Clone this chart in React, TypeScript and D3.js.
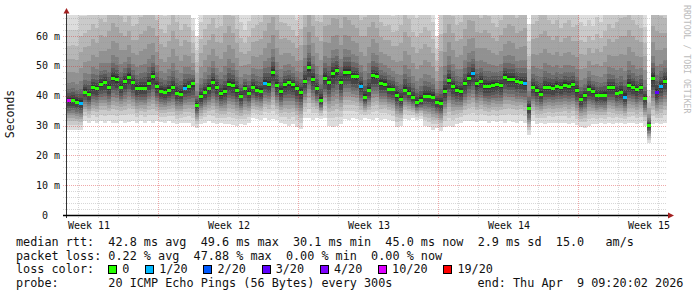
import React from "react";
import * as d3 from "d3";

// ---------------- data ----------------
const DAYS = 30;
const STEP_DAYS = 0.2; // one column = 4.8 h
const Y_MAX = 67.05;

const medianMs = [
  38.5, 38.6, 38.0, 37.5, 41.3, 40.5, 42.8, 42.6, 43.8, 44.5,
  42.8, 46.0, 45.5, 43.0, 45.0, 46.4, 44.5, 42.6, 42.5, 42.7,
  44.3, 46.6, 43.2, 41.6, 41.3, 41.9, 43.0, 41.0, 40.6, 42.7,
  43.2, 44.1, 36.9, 39.8, 41.3, 42.6, 44.7, 42.9, 40.8, 41.5,
  44.0, 43.6, 42.0, 39.9, 42.5, 41.0, 43.0, 41.9, 41.5, 44.4,
  44.0, 48.0, 43.5, 41.5, 43.8, 44.5, 43.8, 42.5, 41.3, 45.0,
  49.5, 45.7, 42.5, 38.5, 46.0, 44.7, 47.5, 48.5, 44.7, 48.0,
  48.1, 46.6, 46.5, 43.2, 39.5, 41.9, 46.8, 46.6, 44.3, 44.0,
  42.4, 42.3, 40.2, 38.8, 42.0, 41.0, 39.5, 37.8, 38.5, 40.0,
  40.0, 39.7, 38.0, 37.5, 41.5, 45.2, 43.2, 41.9, 41.5, 44.1,
  46.0, 47.5, 44.1, 45.0, 43.2, 43.2, 43.6, 43.8, 43.5, 46.4,
  45.7, 45.7, 44.9, 44.6, 44.4, 35.8, 43.0, 41.9, 40.6, 43.0,
  42.9, 42.6, 43.2, 43.0, 43.6, 43.2, 43.8, 41.8, 38.8, 40.2,
  42.4, 41.5, 40.2, 40.2, 40.2, 42.8, 42.9, 41.0, 41.3, 39.7,
  43.6, 43.0, 42.1, 42.8, 39.2, 30.2, 46.0, 41.3, 43.2, 45.0,
];

// slowest ping of each column (upper edge of the smoke)
const smokeHiMs = [
  68, 68, 68, 74, 73, 75, 77, 75, 79, 77,
  83, 85, 83, 81, 77, 79, 75, 77, 81, 83,
  85, 81, 79, 75, 73, 77, 83, 79, 75, 77,
  75, 66, 60, 71, 75, 77, 79, 75, 77, 83,
  85, 81, 75, 71, 67, 71, 75, 77, 79, 81,
  87, 87, 83, 79, 77, 75, 73, 71, 75, 83,
  87, 83, 79, 81, 83, 85, 87, 85, 83, 87,
  85, 83, 81, 79, 83, 87, 85, 81, 77, 75,
  77, 73, 75, 79, 83, 81, 75, 73, 75, 77,
  75, 71, 60, 75, 83, 85, 81, 77, 79, 83,
  87, 85, 81, 79, 83, 81, 77, 75, 79, 81,
  85, 83, 79, 81, 83, 64, 77, 79, 83, 83,
  79, 77, 79, 75, 77, 79, 75, 77, 71, 69,
  71, 69, 73, 71, 75, 77, 75, 79, 81, 83,
  83, 79, 77, 75, 69, 42, 83, 85, 81, 79,
];

// fastest ping of each column (lower edge of the smoke)
const smokeLoMs = [
  28.5, 28.5, 28.5, 28.5, 31.5, 31, 31.5, 31, 31.5, 31,
  31.5, 31, 30.8, 31.5, 31, 31.2, 31.5, 30.8, 31.5, 31,
  31.5, 31, 31.5, 31.2, 31, 31.5, 31, 30.5, 31, 31,
  31, 30, 29.2, 30.5, 31, 31.5, 31, 30.5, 31, 30.5,
  30.5, 30.2, 30, 30.5, 30.2, 31, 32.5, 32.2, 32, 32.5,
  32, 32.2, 32, 31, 30.5, 29.8, 30.5, 29.5, 28.8, 32.5,
  32.5, 32, 32.5, 32.2, 32.5, 30, 29.5, 29.8, 30.5, 32.2,
  32, 32.5, 32.2, 32, 32.5, 32.2, 32, 32.5, 32, 32.2,
  32, 31.5, 29.5, 30, 32.2, 32, 32.5, 32, 32.2, 30,
  29.5, 28.5, 29, 28, 29.5, 30, 29.5, 30.5, 31, 31.5,
  31.5, 31.5, 31.2, 31.5, 31.5, 31, 31.5, 31.2, 31.5, 31,
  31.5, 31.2, 31, 31.5, 31, 26.8, 31.5, 30.5, 31, 30.5,
  31, 30.8, 31, 31, 31, 30.5, 31, 30.2, 29.5, 29.2,
  30, 30.5, 30.5, 30.8, 30.5, 31, 30.5, 31, 30.8, 30.5,
  30.8, 31, 30.5, 31, 30, 24, 30.5, 30.8, 30.5, 31,
];

// [column index, lost pings out of 20]
const lossEvents: [number, number][] = [
  [0, 10], [3, 1], [29, 1], [49, 1], [73, 1], [101, 1],
  [114, 1], [139, 1], [147, 3], [148, 1],
];

const lossLevels = [0, 1, 2, 3, 4, 10, 19];
const lossLabels = ["0", "1/20", "2/20", "3/20", "4/20", "10/20", "19/20"];
const lossColors = ["#26ff00", "#00b8ff", "#0059ff", "#5e00ff", "#7e00ff", "#dd00ff", "#ff0000"];

const yTicks = [0, 10, 20, 30, 40, 50, 60];
const weekLabels = ["Week 11", "Week 12", "Week 13", "Week 14", "Week 15"];
const weekLabelDays = [1.1, 8.1, 15.1, 22.1, 29.1];
const firstMidnightDay = 0.55;
const firstMajorDayIndex = 4;

const summaryRtt = "median rtt:  42.8 ms avg  49.6 ms max  30.1 ms min  45.0 ms now  2.9 ms sd  15.0   am/s";
const summaryLoss = "packet loss: 0.22 % avg  47.88 % max  0.00 % min  0.00 % now";
const probeText = "probe:       20 ICMP Echo Pings (56 Bytes) every 300s";
const endText = "end: Thu Apr  9 09:20:02 2026";

// ---------------- rendering ----------------
const MONO = "'DejaVu Sans Mono', monospace";
const CH = 7.1; // char advance of the 11.8px mono font

// smokeping style: outer band light, inner band dark
const bandGrey = d3.range(10).map((k) => {
  const g = Math.round((190 / 10) * (9 - k) + 50);
  return `rgb(${g},${g},${g})`;
});
const pHi = [1, 0.8, 0.62, 0.47, 0.32, 0.2, 0.13, 0.085, 0.05, 0.025];
const pLo = [1, 0.83, 0.7, 0.6, 0.51, 0.43, 0.35, 0.27, 0.19, 0.08];

export default function App() {
  const x = d3.scaleLinear().domain([0, DAYS]).range([67, 667]);
  const y = d3.scaleLinear().domain([0, Y_MAX]).range([215, 15]);
  const lossMap = new Map(lossEvents);

  const cols = medianMs.map((m, i) => {
    const x0 = x(i * STEP_DAYS);
    const x1 = x((i + 1) * STEP_DAYS);
    const hi = smokeHiMs[i];
    const lo = smokeLoMs[i];
    const bands = d3.range(10).map((k) => {
      const top = m + (hi - m) * pHi[k];
      const bot = m - (m - lo) * pLo[k];
      return { y0: y(top), y1: y(bot), fill: bandGrey[k] };
    });
    const lvl = lossMap.get(i) ?? 0;
    const color = lossColors[lossLevels.indexOf(lvl)];
    return { x0, x1, bands, m, color };
  });

  const dayLines = d3.range(0, DAYS).map((k) => ({
    px: Math.round(x(firstMidnightDay + k)) + 0.5,
    major: (k - firstMajorDayIndex) % 7 === 0 && k >= firstMajorDayIndex,
  }));
  const hLines = d3.range(2, 67, 2).map((v) => ({
    py: Math.round(y(v)) + 0.5,
    major: v % 10 === 0,
  }));

  const minorStroke = "rgba(150,150,150,0.38)";
  const majorStroke = "rgba(215,40,40,0.4)";

  // legend layout
  let col = 13;
  const legendItems = lossLabels.map((lab, i) => {
    const bx = 16 + col * CH;
    col += lab.length + 4.2;
    return { bx, lab, color: lossColors[i] };
  });

  return (
    <svg
      width={697}
      height={297}
      style={{ position: "absolute", left: 0, top: 0, display: "block" }}
    >
      <rect x={0} y={0} width={697} height={297} fill="#ffffff" />
      <defs>
        <clipPath id="plotclip">
          <rect x={67} y={15} width={600} height={200} />
        </clipPath>
      </defs>

      {/* smoke */}
      <g clipPath="url(#plotclip)" shapeRendering="crispEdges">
        {cols.map((c, i) =>
          c.bands.map((b, k) => (
            <rect
              key={`${i}-${k}`}
              x={c.x0}
              y={b.y0}
              width={c.x1 - c.x0}
              height={Math.max(0, b.y1 - b.y0)}
              fill={b.fill}
            />
          ))
        )}
      </g>

      {/* grid */}
      <g shapeRendering="crispEdges">
        {hLines.map((h, i) => (
          <line
            key={`h${i}`}
            x1={63}
            x2={667}
            y1={h.py}
            y2={h.py}
            stroke={h.major ? majorStroke : minorStroke}
            strokeDasharray="1,1"
          />
        ))}
        {dayLines.map((d, i) => (
          <line
            key={`v${i}`}
            x1={d.px}
            x2={d.px}
            y1={15}
            y2={218}
            stroke={d.major ? majorStroke : minorStroke}
            strokeDasharray="1,1"
          />
        ))}
      </g>

      {/* median */}
      <g shapeRendering="crispEdges">
        {cols.map((c, i) => (
          <rect
            key={`m${i}`}
            x={c.x0}
            y={Math.round(y(c.m)) - 1.5}
            width={c.x1 - c.x0}
            height={3}
            fill={c.color}
          />
        ))}
      </g>

      {/* axes */}
      <line x1={66.5} x2={66.5} y1={218} y2={12} stroke="#333" strokeWidth={1} />
      <line x1={63} x2={669} y1={215.5} y2={215.5} stroke="#000" strokeWidth={1.3} />
      <polygon points="63.5,13.5 69.5,13.5 66.5,8" fill="#a32020" />
      <polygon points="668,212.5 668,218.5 674,215.5" fill="#a32020" />

      {/* y tick labels */}
      {yTicks.map((v) => (
        <text
          key={`yt${v}`}
          x={v === 0 ? 48 : 60}
          y={y(v)}
          dy="0.36em"
          textAnchor="end"
          fontFamily={MONO}
          fontSize={10}
          fill="#111"
        >
          {v === 0 ? "0" : `${v} m`}
        </text>
      ))}

      {/* x labels */}
      {weekLabels.map((w, i) => (
        <text
          key={w}
          x={x(weekLabelDays[i])}
          y={228.5}
          textAnchor="middle"
          fontFamily={MONO}
          fontSize={10}
          fill="#111"
        >
          {w}
        </text>
      ))}

      <text
        transform="translate(14,114) rotate(-90)"
        textAnchor="middle"
        fontFamily={MONO}
        fontSize={11.5}
        fill="#111"
      >
        Seconds
      </text>

      <text
        transform="translate(684,5) rotate(90)"
        textAnchor="start"
        fontFamily={MONO}
        fontSize={8.2}
        fill="#bcbcbc"
      >
        RRDTOOL / TOBI OETIKER
      </text>

      {/* summary */}
      <g fontFamily={MONO} fontSize={11.8} fill="#111" style={{ whiteSpace: "pre" }}>
        <text x={16} y={245.8} xmlSpace="preserve">{summaryRtt}</text>
        <text x={16} y={259.5} xmlSpace="preserve">{summaryLoss}</text>
        <text x={16} y={273.2} xmlSpace="preserve">loss color:</text>
        {legendItems.map((it) => (
          <g key={it.lab}>
            <rect
              x={Math.round(it.bx) + 0.5}
              y={265.5}
              width={8}
              height={8}
              fill={it.color}
              stroke="#000"
              strokeWidth={1}
            />
            <text x={it.bx + 14} y={273.2}>{it.lab}</text>
          </g>
        ))}
        <text x={16} y={286.9} xmlSpace="preserve">{probeText}</text>
        <text x={16 + 65 * CH} y={286.9} xmlSpace="preserve">{endText}</text>
      </g>
    </svg>
  );
}
